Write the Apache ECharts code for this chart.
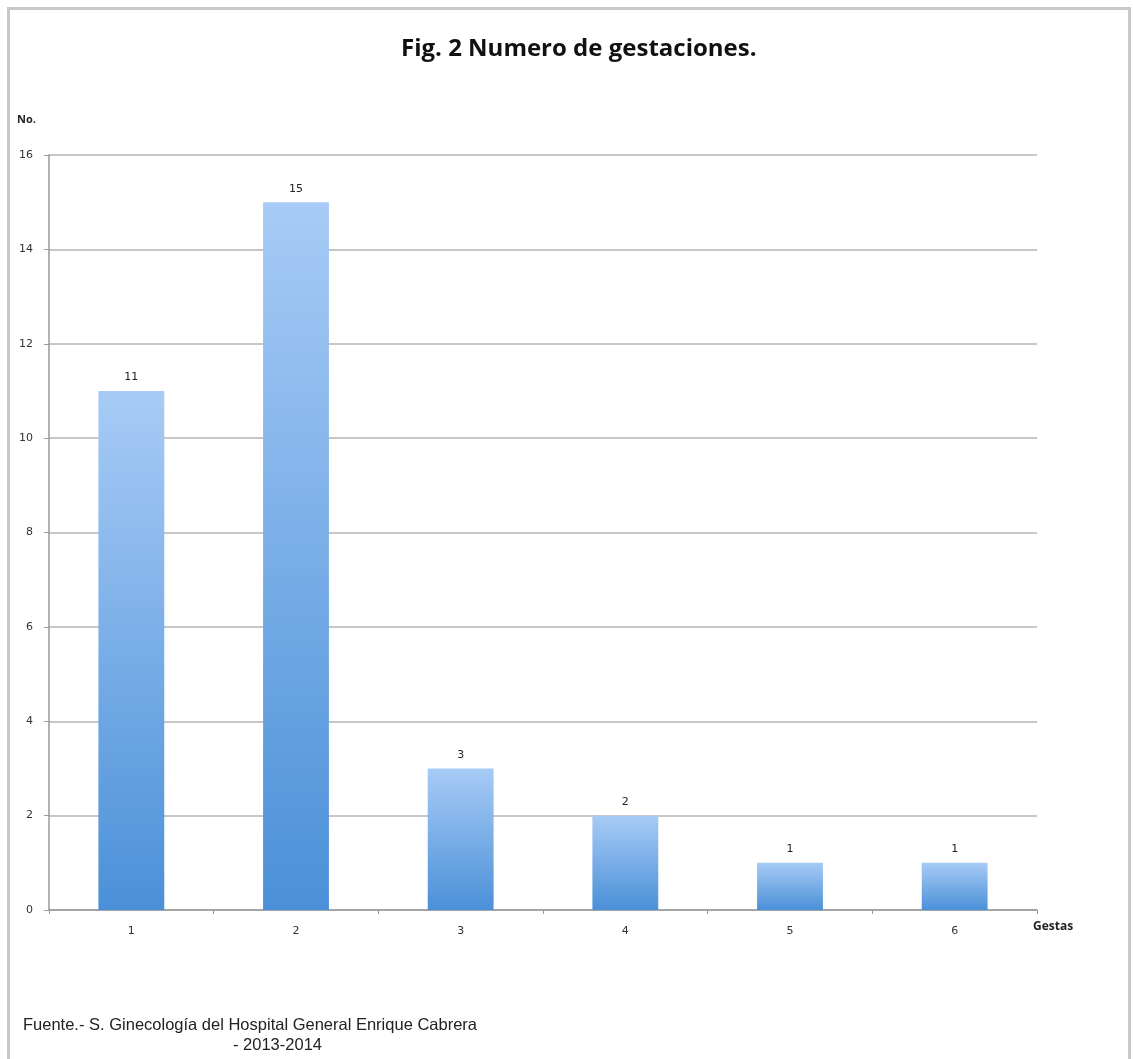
<!DOCTYPE html>
<html>
<head>
<meta charset="utf-8">
<script src="https://cdn.jsdelivr.net/npm/echarts@6/dist/echarts.min.js"></script>
<style>
  html, body { margin: 0; padding: 0; background: #fff; }
  #frame { position: absolute; left: 7px; top: 7px; width: 1118px; height: 1060px;
           border-left: 3px solid #c8c8c8; border-top: 3px solid #c8c8c8; border-right: 3px solid #c8c8c8; }
  #chart { position: absolute; left: 0; top: 0; width: 1133px; height: 1059px; }
</style>
</head>
<body>
<div id="frame"></div>
<div id="chart"></div>
<script>
// Number of pregnancies (gestas) per patient
const categories = ['1', '2', '3', '4', '5', '6'];
const counts = [11, 15, 3, 2, 1, 1];
const yTicks = [0, 2, 4, 6, 8, 10, 12, 14, 16];

const chart = echarts.init(document.getElementById('chart'), null, { renderer: 'canvas' });

const barFill = new echarts.graphic.LinearGradient(0, 0, 0, 1, [
  { offset: 0, color: '#a7cbf6' },
  { offset: 1, color: '#4b90d8' }
]);

chart.setOption({
  animation: false,
  backgroundColor: 'transparent',
  title: {
    text: 'Fig. 2 Numero de gestaciones.',
    left: 396,
    top: 32,
    textStyle: { fontFamily: 'Open Sans', fontWeight: 'bold', fontSize: 24, color: '#111' }
  },
  grid: { left: 49, right: 96, top: 155, bottom: 149, containLabel: false },
  xAxis: {
    type: 'category',
    data: categories,
    name: 'Gestas',
    nameLocation: 'end',
    nameGap: 0,
    nameTextStyle: { fontFamily: 'Open Sans', fontWeight: 'bold', fontSize: 12, color: '#222',
                     align: 'left', verticalAlign: 'top', padding: [11, 0, 0, -4] },
    axisLine: { lineStyle: { color: '#999', width: 1.5 } },
    axisTick: { show: true, alignWithLabel: false, length: 4, lineStyle: { color: '#999' } },
    axisLabel: { fontFamily: 'DejaVu Sans', fontSize: 11, color: '#333', margin: 16 }
  },
  yAxis: {
    type: 'value',
    min: 0,
    max: 16,
    interval: 2,
    name: 'No.',
    nameLocation: 'end',
    nameGap: 0,
    nameTextStyle: { fontFamily: 'Open Sans', fontWeight: 'bold', fontSize: 11, color: '#222',
                     align: 'left', verticalAlign: 'bottom', padding: [0, 0, 30, -32] },
    axisLine: { show: true, lineStyle: { color: '#999', width: 1.5 } },
    axisTick: { show: true, inside: false, length: 5, lineStyle: { color: '#999' } },
    axisLabel: {
      fontFamily: 'DejaVu Sans', fontSize: 11, color: '#333', margin: 16, align: 'right',
      formatter: v => (yTicks.indexOf(v) >= 0 ? String(v) : '')
    },
    splitLine: { show: true, lineStyle: { color: '#b4b4b4', width: 1.5 } }
  },
  series: [{
    type: 'bar',
    data: counts,
    barWidth: '40%',
    itemStyle: { color: barFill },
    label: {
      show: true,
      position: 'top',
      distance: 8,
      fontFamily: 'DejaVu Sans',
      fontSize: 11,
      color: '#222'
    }
  }],
  graphic: [
    {
      type: 'text', left: 23, top: 1017,
      style: { text: 'Fuente.- S. Ginecología del Hospital General Enrique Cabrera',
               font: '16.5px "Liberation Sans", Arial, sans-serif', fill: '#222' }
    },
    {
      type: 'text', left: 233, top: 1037,
      style: { text: '- 2013-2014', font: '16.5px "Liberation Sans", Arial, sans-serif', fill: '#222' }
    }
  ]
});
</script>
</body>
</html>
